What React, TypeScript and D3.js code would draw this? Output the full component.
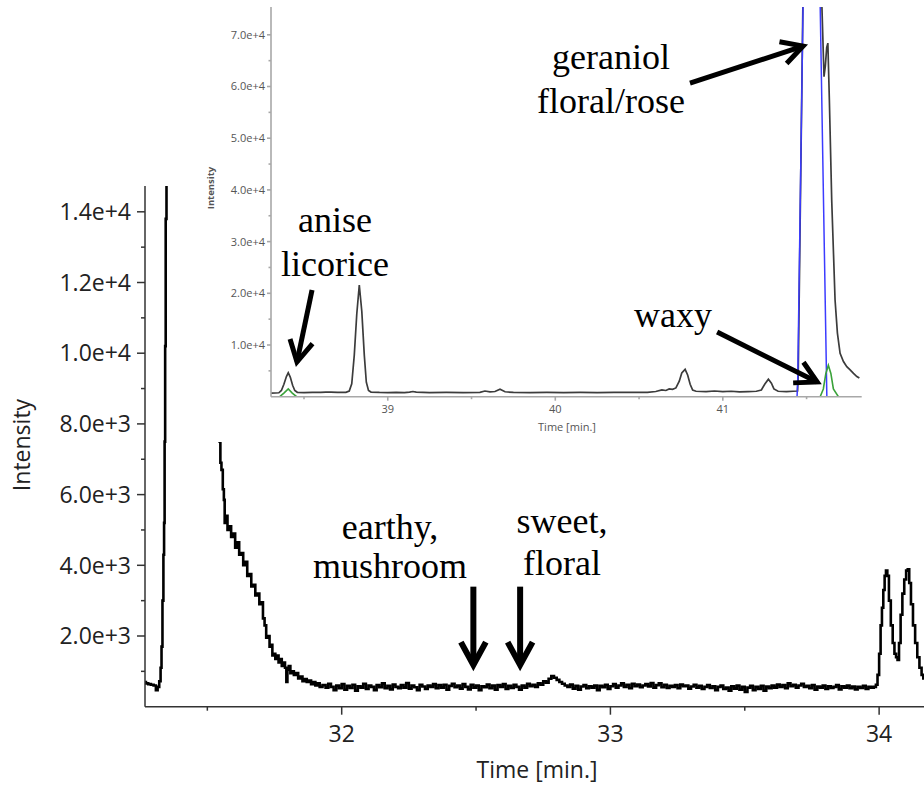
import React from "react";
import * as d3 from "d3";

// ---------- main chromatogram data ----------
const mainPeakPairs: [number, number][] = [
  [31.268, 700], [31.275, 660], [31.285, 640], [31.295, 620], [31.305, 600], [31.312, 470],
  [31.318, 560], [31.324, 720], [31.328, 1100], [31.331, 1700], [31.335, 3000], [31.338, 4300],
  [31.34, 5200], [31.342, 7500], [31.344, 10200], [31.346, 13800], [31.35, 15500], [31.36, 18000],
  [31.42, 17500], [31.46, 15500], [31.5, 11000], [31.53, 8500],
  [31.545, 7700], [31.547, 7500], [31.55, 6900], [31.555, 6700], [31.56, 6150], [31.563, 5850],
  [31.566, 5200], [31.572, 5400], [31.578, 5000], [31.585, 5100], [31.592, 4800], [31.6, 4900],
  [31.607, 4500], [31.615, 4650], [31.622, 4300], [31.63, 4350], [31.637, 4000], [31.645, 4100],
  [31.652, 3700], [31.66, 3750], [31.667, 3400], [31.675, 3450], [31.682, 3150], [31.69, 3200],
  [31.697, 2900], [31.704, 2950], [31.71, 2500], [31.716, 2300], [31.722, 1950], [31.728, 2000],
  [31.735, 1700], [31.74, 1750], [31.744, 1450], [31.75, 1500], [31.756, 1350], [31.762, 1450],
  [31.768, 1250], [31.774, 1350], [31.78, 1150], [31.786, 1250], [31.792, 1100], [31.796, 700],
  [31.8, 1050], [31.806, 1150], [31.812, 950], [31.818, 1000], [31.826, 900], [31.834, 950],
  [31.842, 800], [31.85, 850], [31.858, 720], [31.866, 780], [31.874, 700], [31.882, 740],
  [31.89, 640], [31.898, 700], [31.906, 600], [31.914, 660], [31.922, 560],
];

const baselineStart = 31.935;
const baselineStep = 0.01;
const baselineValues: number[] = [
  610, 540, 650, 560, 470, 600, 520, 640, 480, 590,
  530, 620, 450, 580, 540, 650, 500, 600, 560, 470,
  610, 550, 660, 520, 590, 490, 630, 560, 520, 610,
  540, 670, 510, 600, 550, 470, 620, 570, 500, 600,
  560, 640, 520, 610, 540, 620, 480, 590, 650, 550,
  600, 510, 640, 560, 490, 620, 540, 600, 470, 580,
  550, 630, 520, 600, 480, 610, 560, 640, 500, 590,
  530, 620, 560, 480, 600, 540, 650, 580, 620, 560,
  660, 620, 720, 680, 790, 870, 820, 760, 700, 650,
  600, 560, 630, 510, 590, 480, 570, 610, 520, 580,
  540, 600, 470, 590, 550, 620, 500, 580, 640, 540,
  600, 660, 560, 620, 520, 650, 580, 630, 550, 600,
  640, 570, 670, 540, 610, 660, 550, 620, 530, 590,
  560, 610, 520, 630, 580, 600, 510, 570, 620, 540,
  590, 500, 560, 610, 530, 580, 470, 560, 600, 500,
  540, 450, 580, 510, 600, 480, 560, 420, 540, 590,
  470, 560, 500, 590, 450, 570, 520, 600, 540, 630,
  560, 610, 520, 660, 580, 620, 540, 600, 650, 560,
  590, 520, 610, 480, 570, 540, 600, 500, 580, 530,
  560, 610, 490, 580, 540, 600, 520, 570, 490, 560,
  530, 590, 500, 560, 540,
];

const rightPeakPairs: [number, number][] = [
  [33.985, 560], [33.991, 620], [33.997, 900], [34.003, 1500], [34.008, 2300], [34.013, 2800],
  [34.018, 3300], [34.023, 3700], [34.028, 3850], [34.033, 3700], [34.04, 3000], [34.047, 2300],
  [34.054, 1800], [34.06, 1500], [34.066, 1400], [34.071, 1320], [34.077, 1800], [34.083, 2600],
  [34.09, 3200], [34.097, 3600], [34.104, 3850], [34.109, 3890], [34.115, 3500], [34.122, 2900],
  [34.13, 2300], [34.138, 1800], [34.146, 1400], [34.154, 1100], [34.162, 900], [34.167, 800],
];

const mainXDomain: [number, number] = [31.268, 34.167];
const mainYDomain: [number, number] = [0, 14730];
const mainXMajor = [32, 33, 34];
const mainXMinor = [31.5, 32.5, 33.5];
const mainYMajor = [2000, 4000, 6000, 8000, 10000, 12000, 14000];
const mainYMinor = [1000, 3000, 5000, 7000, 9000, 11000, 13000];

const mainNotes = [
  { lines: ["earthy,", "mushroom"], t: 32.18, v: [4746, 3642] },
  { lines: ["sweet,", "floral"], t: 32.82, v: [4916, 3727] },
];
const mainArrows = [
  { t: 32.49, from: 3396, to: 1180 },
  { t: 32.664, from: 3396, to: 1180 },
];

// ---------- inset data ----------
const insetBlack: [number, number][] = [
  [38.303, 700], [38.33, 720], [38.35, 760], [38.365, 1200], [38.38, 2400], [38.395, 3900],
  [38.406, 4640], [38.418, 3800], [38.432, 2200], [38.445, 1200], [38.46, 850], [38.5, 800],
  [38.55, 820], [38.6, 850], [38.63, 900], [38.66, 870], [38.7, 820], [38.75, 830], [38.77, 1100],
  [38.785, 2500], [38.8, 8000], [38.815, 16000], [38.83, 21600], [38.845, 16500], [38.86, 8000],
  [38.872, 2800], [38.885, 1200], [38.9, 900], [38.95, 820], [39.0, 800], [39.05, 820], [39.1, 800],
  [39.13, 900], [39.15, 1000], [39.17, 880], [39.25, 800], [39.35, 820], [39.45, 800], [39.55, 850],
  [39.58, 1100], [39.61, 950], [39.64, 1000], [39.67, 1430], [39.7, 950], [39.75, 820], [39.85, 800],
  [39.95, 820], [40.05, 800], [40.15, 820], [40.25, 800], [40.35, 830], [40.45, 820], [40.55, 850],
  [40.6, 1000], [40.636, 1300], [40.66, 1200], [40.68, 1500], [40.7, 1430], [40.72, 1700],
  [40.74, 3000], [40.755, 4600], [40.775, 5300], [40.79, 4200], [40.805, 2400], [40.82, 1300],
  [40.84, 1050], [40.9, 1000], [40.95, 1100], [41.0, 1000], [41.05, 1050], [41.1, 950], [41.15, 1000],
  [41.2, 1050], [41.23, 1300], [41.25, 2400], [41.272, 3370], [41.29, 2600], [41.305, 1500],
  [41.33, 1050], [41.38, 1000], [41.42, 1050], [41.446, 1100], [41.45, 4000], [41.478, 76000],
  [41.49, 100000], [41.58, 100000], [41.591, 76000], [41.604, 61900], [41.612, 64000],
  [41.62, 67500], [41.627, 68400], [41.636, 57400], [41.65, 38000], [41.67, 18700], [41.684, 12300],
  [41.7, 8400], [41.72, 6800], [41.74, 5800], [41.76, 5200], [41.78, 4500], [41.8, 3900], [41.815, 3600],
];
const insetBlue: [number, number][] = [
  [41.443, 0], [41.447, 3000], [41.479, 76000], [41.5, 150000], [41.56, 150000], [41.581, 76000], [41.621, 0],
];
const insetGreenA: [number, number][] = [
  [38.355, 0], [38.38, 700], [38.406, 1500], [38.43, 700], [38.456, 0],
];
const insetGreenB: [number, number][] = [
  [41.581, 0], [41.6, 1500], [41.615, 4500], [41.63, 6100], [41.645, 4500], [41.66, 1500], [41.69, 0],
];

const insetXDomain: [number, number] = [38.303, 41.829];
const insetYDomain: [number, number] = [0, 75380];
const insetXMajor = [39, 40, 41];
const insetXMinor = [38.5, 39.5, 40.5, 41.5];
const insetYMajor = [10000, 20000, 30000, 40000, 50000, 60000, 70000];
const insetYMinor = [5000, 15000, 25000, 35000, 45000, 55000, 65000];

const insetNotes = [
  { lines: ["geraniol", "floral/rose"], t: 40.333, v: [63385, 54874] },
  { lines: ["anise", "licorice"], t: 38.685, v: [31857, 23346] },
  { lines: ["waxy"], t: 40.703, v: [13482] },
];
const insetArrows = [
  { from: [40.804, 60660], to: [41.479, 67824] },
  { from: [38.548, 20638], to: [38.458, 6712] },
  { from: [40.966, 12515], to: [41.563, 2843] },
];

const fmtSci = (v: number) => {
  const e = Math.floor(Math.log10(v));
  const m = v / Math.pow(10, e);
  return `${m.toFixed(1)}e+${e}`;
};

const SERIF = "'Liberation Serif', 'Times New Roman', serif";
const SANS = "'Open Sans', 'Noto Sans', sans-serif";

function arrowHead(x1: number, y1: number, x2: number, y2: number, len: number, spread: number) {
  const a = Math.atan2(y2 - y1, x2 - x1);
  const p1 = [x2 - len * Math.cos(a - spread), y2 - len * Math.sin(a - spread)];
  const p2 = [x2 - len * Math.cos(a + spread), y2 - len * Math.sin(a + spread)];
  return `M${p1[0]},${p1[1]}L${x2},${y2}L${p2[0]},${p2[1]}`;
}

export default function App() {
  // main scales
  const mx = d3.scaleLinear().domain(mainXDomain).range([145, 924]);
  const my = d3.scaleLinear().domain(mainYDomain).range([706.7, 186]);
  const mainTrace: [number, number][] = [
    ...mainPeakPairs,
    ...baselineValues.map((v, i) => [baselineStart + i * baselineStep, v] as [number, number]),
    ...rightPeakPairs,
  ];
  const mainLine = d3
    .line<[number, number]>()
    .x((d) => mx(d[0]))
    .y((d) => my(d[1]))
    .curve(d3.curveStep);

  // inset scales
  const ix = d3.scaleLinear().domain(insetXDomain).range([271, 861.7]);
  const iy = d3.scaleLinear().domain(insetYDomain).range([396.7, 7]);
  const insetLine = d3
    .line<[number, number]>()
    .x((d) => ix(d[0]))
    .y((d) => iy(d[1]));

  const [mx0, mx1] = mx.range();
  const [my0, my1] = my.range();
  const [ix0, ix1] = ix.range();
  const [iy0, iy1] = iy.range();

  return (
    <svg
      width={924}
      height={786}
      style={{ position: "absolute", left: 0, top: 0, display: "block", background: "#fff" }}
    >
      <defs>
        <clipPath id="mainClip">
          <rect x={mx0} y={my1} width={mx1 - mx0} height={my0 - my1} />
        </clipPath>
        <clipPath id="insetClip">
          <rect x={ix0} y={iy1} width={ix1 - ix0} height={iy0 - iy1} />
        </clipPath>
      </defs>
      <rect x={0} y={0} width={924} height={786} fill="#fff" />

      {/* ---------- main chart ---------- */}
      <g clipPath="url(#mainClip)">
        <path d={mainLine(mainTrace) || ""} fill="none" stroke="#000" strokeWidth={2.6} />
      </g>
      <g stroke="#333" strokeWidth={1.5}>
        <line x1={mx0} x2={mx0} y1={my1} y2={my0} />
        <line x1={mx0} x2={mx1} y1={my0} y2={my0} />
        {mainYMajor.map((v) => (
          <line key={"ym" + v} x1={mx0 - 8} x2={mx0} y1={my(v)} y2={my(v)} />
        ))}
        {mainYMinor.map((v) => (
          <line key={"yn" + v} x1={mx0 - 4} x2={mx0} y1={my(v)} y2={my(v)} />
        ))}
        {mainXMajor.map((v) => (
          <line key={"xm" + v} x1={mx(v)} x2={mx(v)} y1={my0} y2={my0 + 8} />
        ))}
        {mainXMinor.map((v) => (
          <line key={"xn" + v} x1={mx(v)} x2={mx(v)} y1={my0} y2={my0 + 4} />
        ))}
      </g>
      <g fontFamily={SANS} fontSize={23} fill="#222">
        {mainYMajor.map((v) => (
          <text key={"yl" + v} x={131} y={my(v)} dy="0.36em" textAnchor="end">
            {fmtSci(v)}
          </text>
        ))}
        {mainXMajor.map((v) => (
          <text key={"xl" + v} x={mx(v)} y={742} textAnchor="middle">
            {v}
          </text>
        ))}
        <text x={537} y={778} textAnchor="middle" fontSize={23}>
          Time [min.]
        </text>
        <text transform="translate(30,445) rotate(-90)" textAnchor="middle" fontSize={23}>
          Intensity
        </text>
      </g>
      <g fontFamily={SERIF} fontSize={36} fill="#000" textAnchor="middle">
        {mainNotes.map((n, i) =>
          n.lines.map((l, j) => (
            <text key={"mn" + i + j} x={mx(n.t)} y={my(n.v[j])}>
              {l}
            </text>
          ))
        )}
      </g>
      <g stroke="#000" strokeWidth={6} fill="none" strokeLinejoin="miter">
        {mainArrows.map((a, i) => {
          const x = mx(a.t);
          const y1 = my(a.from);
          const y2 = my(a.to);
          return (
            <g key={"ma" + i}>
              <line x1={x} x2={x} y1={y1} y2={y2 - 3} />
              <path d={arrowHead(x, y1, x, y2, 26, 0.5)} />
            </g>
          );
        })}
      </g>

      {/* ---------- inset ---------- */}
      <rect x={196} y={0} width={728} height={442} fill="#fff" />
      <g clipPath="url(#insetClip)" fill="none">
        <path d={insetLine(insetBlack) || ""} stroke="#3c3c3c" strokeWidth={1.7} />
        <path d={insetLine(insetBlue) || ""} stroke="#3b3bff" strokeWidth={1.5} />
        <path d={insetLine(insetGreenA) || ""} stroke="#3aa23a" strokeWidth={1.6} />
        <path d={insetLine(insetGreenB) || ""} stroke="#3aa23a" strokeWidth={1.6} />
      </g>
      <g stroke="#a8a8a8" strokeWidth={1.6}>
        <line x1={ix0} x2={ix0} y1={iy1} y2={iy0} />
        <line x1={ix0} x2={ix1} y1={iy0} y2={iy0} />
        {insetYMajor.map((v) => (
          <line key={"iym" + v} x1={ix0 - 4} x2={ix0} y1={iy(v)} y2={iy(v)} />
        ))}
        {insetYMinor.map((v) => (
          <line key={"iyn" + v} x1={ix0 - 2.5} x2={ix0} y1={iy(v)} y2={iy(v)} />
        ))}
        {insetXMajor.map((v) => (
          <line key={"ixm" + v} x1={ix(v)} x2={ix(v)} y1={iy0} y2={iy0 + 4} />
        ))}
        {insetXMinor.map((v) => (
          <line key={"ixn" + v} x1={ix(v)} x2={ix(v)} y1={iy0} y2={iy0 + 2.5} />
        ))}
      </g>
      <g fontFamily={SANS} fontSize={11} fill="#555">
        {insetYMajor.map((v) => (
          <text key={"iyl" + v} x={265} y={iy(v)} dy="0.36em" textAnchor="end">
            {fmtSci(v)}
          </text>
        ))}
        {insetXMajor.map((v) => (
          <text key={"ixl" + v} x={ix(v)} y={413} textAnchor="middle" fontSize={11}>
            {v}
          </text>
        ))}
        <text x={567} y={431} textAnchor="middle" fontSize={11}>
          Time [min.]
        </text>
        <text
          transform="translate(214,188) rotate(-90)"
          textAnchor="middle"
          fontSize={9.5}
          fontWeight="bold"
        >
          Intensity
        </text>
      </g>
      <g fontFamily={SERIF} fontSize={36} fill="#000" textAnchor="middle">
        {insetNotes.map((n, i) =>
          n.lines.map((l, j) => (
            <text key={"in" + i + j} x={ix(n.t)} y={iy(n.v[j])}>
              {l}
            </text>
          ))
        )}
      </g>
      <g stroke="#000" strokeWidth={5} fill="none">
        {insetArrows.map((a, i) => {
          const x1 = ix(a.from[0]);
          const y1 = iy(a.from[1]);
          const x2 = ix(a.to[0]);
          const y2 = iy(a.to[1]);
          return (
            <g key={"ia" + i}>
              <line x1={x1} y1={y1} x2={x2} y2={y2} />
              <path d={arrowHead(x1, y1, x2, y2, 24, 0.5)} />
            </g>
          );
        })}
      </g>
    </svg>
  );
}
